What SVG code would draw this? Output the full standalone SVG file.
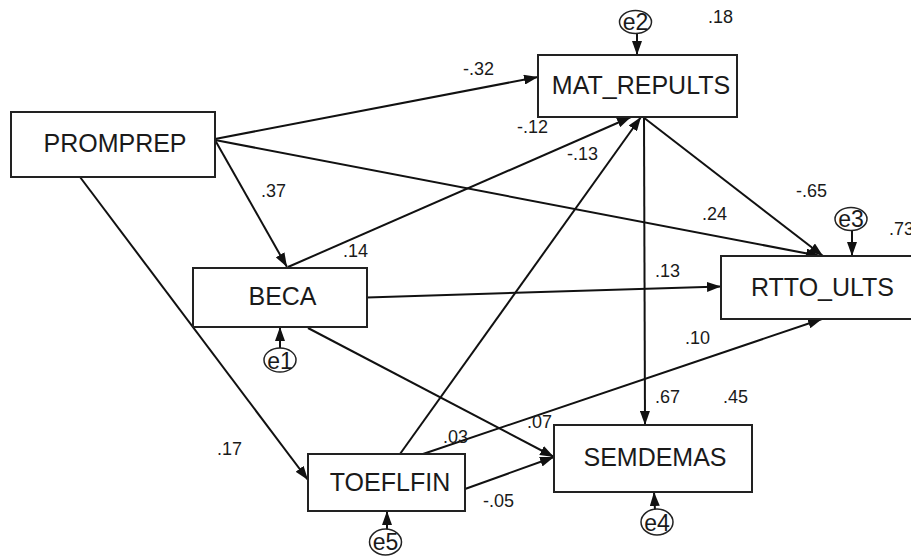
<svg xmlns="http://www.w3.org/2000/svg" width="911" height="556" viewBox="0 0 911 556">
<defs>
<marker id="arr" viewBox="0 0 14 10" refX="14" refY="5" markerWidth="14" markerHeight="10" orient="auto" markerUnits="userSpaceOnUse">
<path d="M0,0 L14,5 L0,10 z" fill="#111"/>
</marker>
<style>
.box{fill:#fff;stroke:#222;stroke-width:2}
.err{fill:#fff;stroke:#222;stroke-width:1.5}
.name{font-family:"Liberation Sans",Arial,sans-serif;font-size:25px;fill:#1a1a1a;text-anchor:middle}
.ename{font-family:"Liberation Sans",Arial,sans-serif;font-size:23px;fill:#1a1a1a;text-anchor:middle}
.lab{font-family:"Liberation Sans",Arial,sans-serif;font-size:18px;fill:#1a1a1a}
.con{fill:none;stroke:#111;stroke-width:2;marker-end:url(#arr)}
</style>
</defs>
<rect width="911" height="556" fill="#fff"/>
<g id="connectors">
<line class="con" x1="215" y1="139" x2="538" y2="77"/>
<line class="con" x1="215" y1="140" x2="820" y2="256"/>
<line class="con" x1="215" y1="140" x2="287" y2="267"/>
<line class="con" x1="80" y1="177" x2="308" y2="480"/>
<line class="con" x1="288" y1="267" x2="631" y2="117"/>
<line class="con" x1="400" y1="454" x2="641" y2="117"/>
<line class="con" x1="643" y1="117" x2="823" y2="256"/>
<line class="con" x1="644" y1="117" x2="645" y2="425"/>
<line class="con" x1="367" y1="297.5" x2="721" y2="286.5"/>
<line class="con" x1="308" y1="328" x2="554" y2="457"/>
<line class="con" x1="423" y1="454" x2="822" y2="319"/>
<line class="con" x1="465" y1="489" x2="554" y2="457"/>
<line class="con" x1="637" y1="34" x2="637" y2="55"/>
<line class="con" x1="852" y1="231" x2="852" y2="256"/>
<line class="con" x1="280" y1="348" x2="280" y2="327"/>
<line class="con" x1="655" y1="510" x2="654" y2="492"/>
<line class="con" x1="387" y1="530" x2="387" y2="511"/>
</g>
<g id="labels">
<text class="lab" x="463" y="75">-.32</text>
<text class="lab" x="702" y="220">.24</text>
<text class="lab" x="261" y="197">.37</text>
<text class="lab" x="217" y="455">.17</text>
<text class="lab" x="517" y="133">-.12</text>
<text class="lab" x="567" y="160">-.13</text>
<text class="lab" x="796" y="197">-.65</text>
<text class="lab" x="655" y="403">.67</text>
<text class="lab" x="655" y="277">.13</text>
<text class="lab" x="527" y="428">.07</text>
<text class="lab" x="443" y="443">.03</text>
<text class="lab" x="685" y="344">.10</text>
<text class="lab" x="483" y="507">-.05</text>
<text class="lab" x="708" y="23">.18</text>
<text class="lab" x="889" y="235">.73</text>
<text class="lab" x="723" y="403">.45</text>
<text class="lab" x="343" y="257">.14</text>
</g>
<g id="PROMPREP"><rect class="box" x="11" y="112" width="204" height="65"/><text class="name" x="115" y="152">PROMPREP</text></g>
<g id="MAT_REPULTS"><rect class="box" x="538" y="55" width="199" height="62"/><text class="name" x="641" y="94">MAT_REPULTS</text></g>
<g id="RTTO_ULTS"><rect class="box" x="721" y="256" width="203" height="63"/><text class="name" x="822.5" y="296">RTTO_ULTS</text></g>
<g id="BECA"><rect class="box" x="193" y="268" width="174" height="59"/><text class="name" x="282.5" y="305">BECA</text></g>
<g id="TOEFLFIN"><rect class="box" x="308" y="454" width="157" height="57"/><text class="name" x="390" y="491">TOEFLFIN</text></g>
<g id="SEMDEMAS"><rect class="box" x="554" y="425" width="198" height="67"/><text class="name" x="655" y="466">SEMDEMAS</text></g>
<g id="e2"><ellipse class="err" cx="635.5" cy="22" rx="16" ry="11.5"/><text class="ename" x="635.5" y="30">e2</text></g>
<g id="e3"><ellipse class="err" cx="851" cy="219" rx="16" ry="11.5"/><text class="ename" x="851" y="227">e3</text></g>
<g id="e1"><ellipse class="err" cx="280" cy="360" rx="16" ry="12"/><text class="ename" x="280" y="369">e1</text></g>
<g id="e4"><ellipse class="err" cx="657" cy="522" rx="16" ry="13"/><text class="ename" x="657" y="531">e4</text></g>
<g id="e5"><ellipse class="err" cx="385.5" cy="542" rx="16" ry="13"/><text class="ename" x="385.5" y="550">e5</text></g>
</svg>
